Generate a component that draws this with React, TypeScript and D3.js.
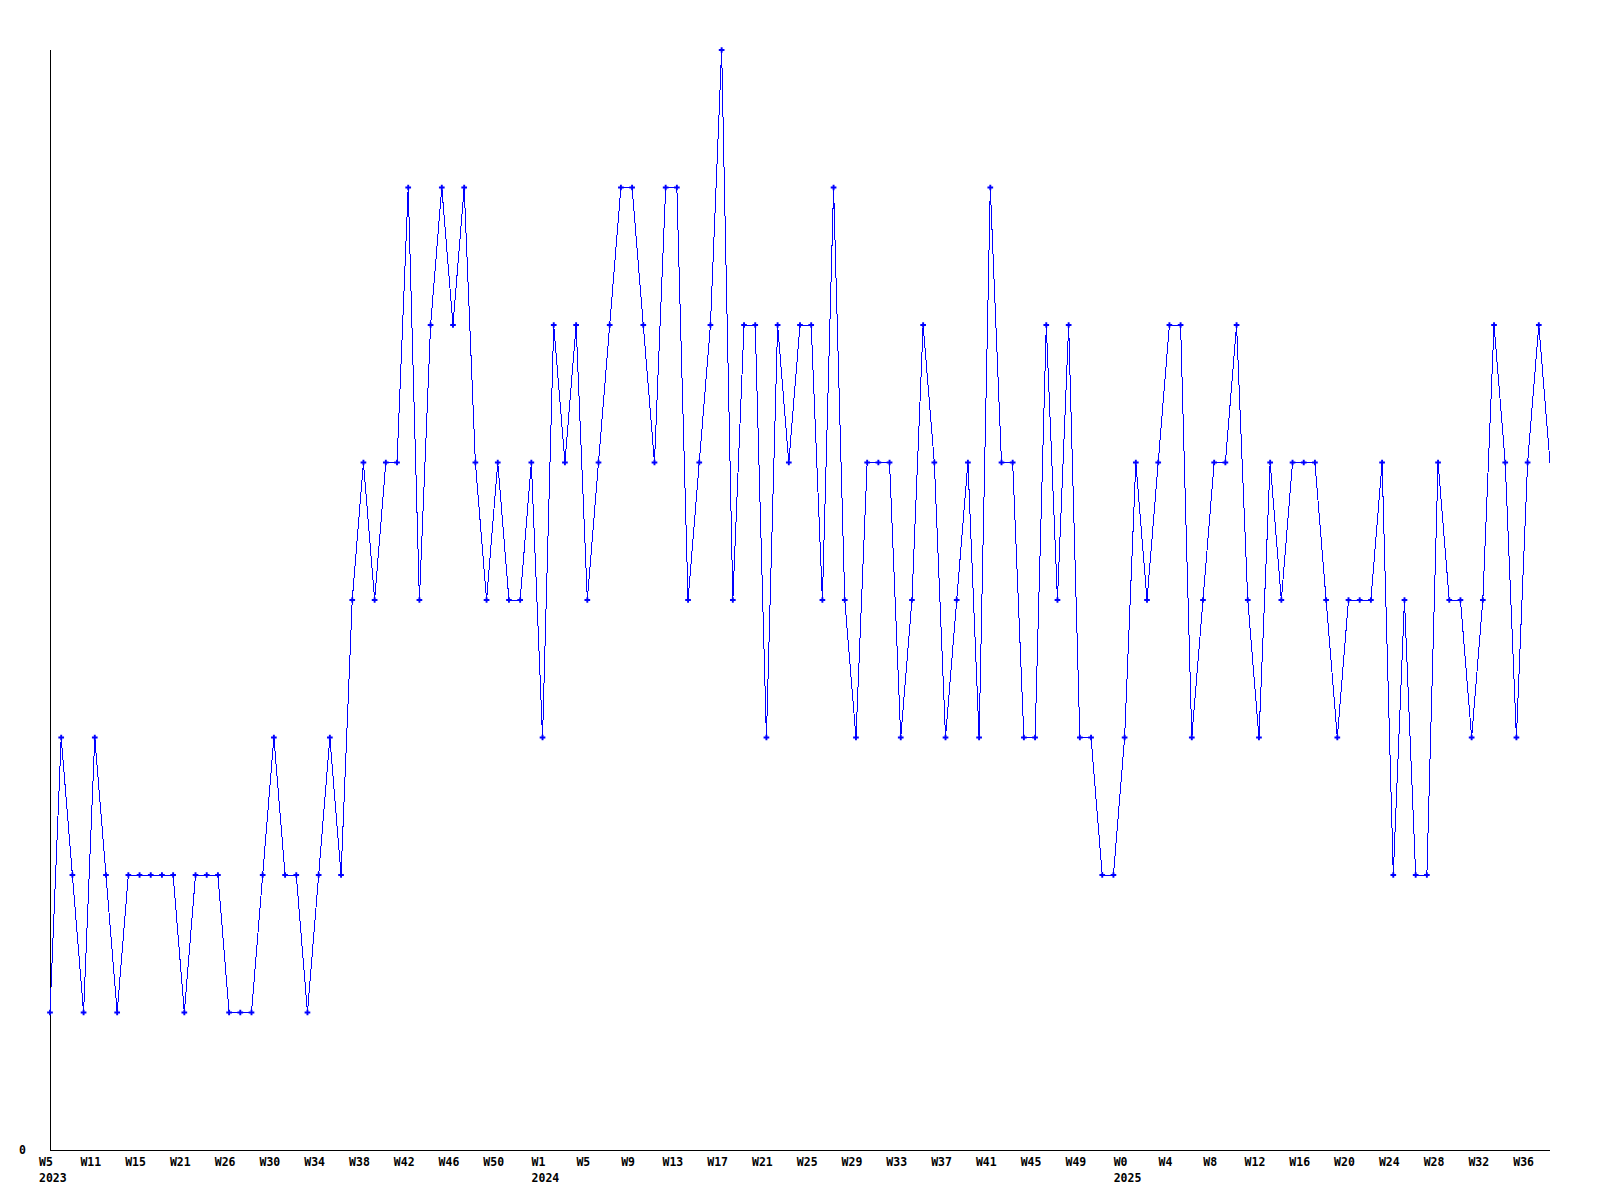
import React, { useRef, useEffect } from 'react';
import * as d3 from 'd3';

// weekly values, 2023 W5 through 2025 W38
const values2023 = [
  1, 3, 2, 1, 3, 2, 1, 2, 2, 2, 2, 2, 1, 2, 2, 2, 1, 1, 1, 2, 3, 2, 2, 1, 2, 3, 2,
  4, 5, 4, 5, 5, 7, 4, 6, 7, 6, 7, 5, 4, 5, 4, 4, 5,
];
const values2024 = [
  3, 6, 5, 6, 4, 5, 6, 7, 7, 6, 5, 7, 7, 4, 5, 6, 8, 4, 6, 6, 3, 6, 5, 6, 6, 4,
  7, 4, 3, 5, 5, 5, 3, 4, 6, 5, 3, 4, 5, 3, 7, 5, 5, 3, 3, 6, 4, 6, 3, 3, 2, 2,
];
const values2025 = [
  3, 5, 4, 5, 6, 6, 3, 4, 5, 5, 6, 4, 3, 5, 4, 5, 5, 5, 4, 3, 4, 4, 4, 5, 2, 4,
  2, 2, 5, 4, 4, 3, 4, 6, 5, 3, 5, 6, 5,
];
const values = [...values2023, ...values2024, ...values2025];

// a label under every 4th point
const weekLabels = [
  'W5', 'W11', 'W15', 'W21', 'W26', 'W30', 'W34', 'W38', 'W42', 'W46', 'W50',
  'W1', 'W5', 'W9', 'W13', 'W17', 'W21', 'W25', 'W29', 'W33', 'W37', 'W41', 'W45', 'W49',
  'W0', 'W4', 'W8', 'W12', 'W16', 'W20', 'W24', 'W28', 'W32', 'W36',
];
const yearLabels = ['2023', '2024', '2025'];
const yearStarts = [0, values2023.length, values2023.length + values2024.length];
const yMax = 8;

export default function App() {
  const ref = useRef<SVGSVGElement>(null);

  useEffect(() => {
    if (!ref.current) return;
    const svg = d3.select(ref.current);
    svg.selectAll('*').remove();

    const left = 50, right = 1550, top = 50, bottom = 1150;
    const font = '"DejaVu Sans Mono", monospace';
    const fontSize = 11.5;

    const x = d3.scaleLinear().domain([0, values.length - 1]).range([left, right]);
    const y = d3.scaleLinear().domain([0, yMax]).range([bottom, top]);

    // axes
    svg.append('line')
      .attr('x1', left + 0.5).attr('x2', left + 0.5).attr('y1', top).attr('y2', bottom)
      .attr('stroke', '#000').attr('shape-rendering', 'crispEdges');
    svg.append('line')
      .attr('x1', left).attr('x2', right).attr('y1', bottom + 0.5).attr('y2', bottom + 0.5)
      .attr('stroke', '#000').attr('shape-rendering', 'crispEdges');

    svg.append('text')
      .attr('x', 26).attr('y', y(0) + 4)
      .attr('text-anchor', 'end')
      .attr('font-family', font).attr('font-weight', 'bold').attr('font-size', fontSize)
      .text('0');

    svg.selectAll('.wk')
      .data(weekLabels)
      .enter()
      .append('text')
      .attr('class', 'wk')
      .attr('x', (_, i) => x(i * 4) - 4)
      .attr('y', 1166)
      .attr('text-anchor', 'middle')
      .attr('font-family', font).attr('font-weight', 'bold').attr('font-size', fontSize)
      .text(d => d);

    svg.selectAll('.yr')
      .data(yearLabels)
      .enter()
      .append('text')
      .attr('class', 'yr')
      .attr('x', (_, i) => x(yearStarts[i]) - 11)
      .attr('y', 1182)
      .attr('text-anchor', 'start')
      .attr('font-family', font).attr('font-weight', 'bold').attr('font-size', fontSize)
      .text(d => d);

    const line = d3.line<number>()
      .x((_, i) => x(i))
      .y(d => y(d));

    svg.append('path')
      .datum(values)
      .attr('fill', 'none')
      .attr('stroke', '#0000ff')
      .attr('stroke-width', 1)
      .attr('shape-rendering', 'crispEdges')
      .attr('d', line);

    // markers on every point but the last
    svg.selectAll('.pt')
      .data(values.slice(0, -1))
      .enter()
      .append('path')
      .attr('class', 'pt')
      .attr('transform', (d, i) => `translate(${x(i)},${y(d)})`)
      .attr('d', d3.symbol().type(d3.symbolCross).size(18)())
      .attr('fill', '#0000ff');
  }, []);

  return (
    <div style={{ position: 'absolute', left: 0, top: 0 }}>
      <svg ref={ref} width={1600} height={1200} style={{ display: 'block', background: '#fff' }} />
    </div>
  );
}
